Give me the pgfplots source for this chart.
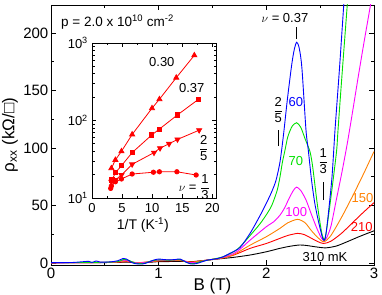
\documentclass[border=0pt]{standalone}
\usepackage{fontspec}
\setmainfont{Liberation Sans}
\usepackage{pgfplots}
\pgfplotsset{compat=1.18}
\usetikzlibrary{calc}
\newcommand{\fr}[2]{$\displaystyle{\hbox{#1}\over\hbox{#2}}$}
\definecolor{cblue}{RGB}{0,0,255}
\definecolor{cgreen}{RGB}{0,225,0}
\definecolor{cmag}{RGB}{255,0,255}
\definecolor{corange}{RGB}{255,128,0}
\definecolor{cred}{RGB}{255,0,0}
\begin{document}
\begin{tikzpicture}
\begin{axis}[name=main, scale only axis, width=323bp, height=260bp,
  xmin=0, xmax=3, ymin=-1.7, ymax=224.4,
  xtick={0,1,2,3}, minor xtick={0.5,1.5,2.5},
  ytick={0,50,100,150,200}, minor ytick={25,75,125,175},
  tick align=inside, major tick length=5bp, minor tick length=3bp,
  axis line style={line width=0.8bp},
  every tick/.style={black, line width=0.8bp},
  /pgf/number format/assume math mode=true,
  tick label style={font=\fontsize{15bp}{18bp}\selectfont},
  yticklabel style={inner sep=0pt, xshift=-2.5bp},
  xlabel={B (T)}, ylabel={ρ\textsubscript{xx} (kΩ/□)},
  label style={font=\fontsize{17bp}{20bp}\selectfont, inner sep=0pt},
  xlabel style={at={(axis description cs:0.5,0)}, anchor=north, yshift=-13bp},
  ylabel style={at={(axis description cs:-0.127,0.5)}, anchor=center},
  every axis plot/.style={line width=0.9bp, smooth, tension=0.45},
]
% 310 mK
\addplot[black] coordinates {(0,0.2)(0.3,0.3)(0.6,0.5)(0.7,0.8)(0.8,0.3)(0.9,0.6)(1.0,1.2)(1.1,1.3)(1.2,1.5)(1.3,1.2)(1.4,2.0)(1.5,3.0)(1.6,4.0)(1.7,5.0)(1.85,7)(2.0,9.8)(2.127,12.8)(2.22,14.6)(2.31,15.7)(2.38,15.2)(2.45,14.2)(2.55,13.2)(2.65,14.8)(2.75,18.5)(2.85,22.5)(2.93,25.5)(3.0,28)};
% 210 mK
\addplot[cred] coordinates {(0,0.2)(0.3,0.3)(0.6,0.6)(0.7,1.2)(0.8,0.3)(0.9,0.8)(1.0,1.8)(1.1,1.9)(1.2,2.0)(1.3,1.0)(1.4,2.0)(1.5,3.2)(1.6,4.5)(1.7,7)(1.85,12.8)(2.0,17)(2.127,21.5)(2.2,24)(2.29,25.8)(2.35,24.8)(2.4,22.5)(2.47,19)(2.53,17)(2.6,19)(2.7,26)(2.8,35)(2.9,44)(3.0,52.5)};
% 150 mK
\addplot[corange] coordinates {(0,0.2)(0.3,0.3)(0.6,0.8)(0.65,1.5)(0.7,1.8)(0.8,0.3)(0.95,1.5)(1.05,2.2)(1.2,2.2)(1.3,0.8)(1.4,1.8)(1.5,3.2)(1.6,4.5)(1.7,7.5)(1.85,15.6)(2.0,22.9)(2.127,30.2)(2.2,35)(2.29,38)(2.36,35)(2.42,28)(2.48,22)(2.535,18.5)(2.6,24)(2.7,40)(2.8,58)(2.9,77)(3.0,97)};
% 100 mK
\addplot[cmag] coordinates {(0,0.2)(0.3,0.3)(0.6,1.0)(0.68,2.5)(0.75,1.0)(0.82,0)(0.9,1.0)(1.0,2.5)(1.1,2.5)(1.2,2.8)(1.28,0.5)(1.35,0.5)(1.45,2.5)(1.5,3.2)(1.6,5)(1.7,8.5)(1.755,12)(1.85,20)(2.0,31.6)(2.07,36)(2.127,41.7)(2.17,48)(2.205,55)(2.25,63)(2.282,66)(2.32,63)(2.368,55)(2.42,42)(2.47,30)(2.51,22)(2.535,19.5)(2.56,22)(2.6,32)(2.65,55)(2.7,78)(2.75,103)(2.8,131)(2.85,160)(2.9,188)(2.95,215)(3.0,242)};
% 70 mK
\addplot[cgreen] coordinates {(0,0.3)(0.3,0.5)(0.6,1.0)(0.67,3.0)(0.72,2.5)(0.78,0)(0.85,-0.5)(0.92,1.5)(1.0,2.8)(1.1,2.5)(1.2,3.0)(1.26,0.5)(1.32,-0.5)(1.4,1.5)(1.5,3.3)(1.6,5.5)(1.7,10)(1.755,14)(1.85,24)(1.94,34)(2.0,42)(2.05,50)(2.1,63)(2.127,75)(2.15,88)(2.173,98)(2.2,110)(2.24,119)(2.282,122)(2.32,118)(2.36,108)(2.405,97)(2.43,84)(2.468,55)(2.5,34)(2.52,24)(2.54,20)(2.555,26)(2.576,40)(2.616,69)(2.653,98)(2.666,116)(2.70,160)(2.752,225)(2.78,262)};
% 60 mK
\addplot[cblue] coordinates {(0,0.3)(0.2,0.5)(0.35,1.5)(0.38,0.5)(0.42,1.8)(0.46,0.8)(0.55,1.0)(0.62,2.0)(0.67,4.0)(0.70,3.5)(0.74,1.0)(0.78,-0.5)(0.85,-0.8)(0.9,0.5)(0.95,2.5)(1.0,3.5)(1.05,3.0)(1.1,2.8)(1.15,3.0)(1.2,3.5)(1.25,1.0)(1.3,-0.8)(1.35,-0.5)(1.4,1.0)(1.45,2.5)(1.5,3.2)(1.55,4.0)(1.6,5.5)(1.66,8.4)(1.755,13.5)(1.85,26)(1.94,41)(2.0,52)(2.05,62)(2.09,72)(2.127,88)(2.16,112)(2.195,142)(2.235,172)(2.26,186)(2.282,192)(2.305,187)(2.33,170)(2.368,116)(2.39,98)(2.42,72)(2.45,52)(2.48,38)(2.505,28)(2.525,21)(2.54,20)(2.555,26)(2.575,42)(2.61,75)(2.638,116)(2.68,170)(2.72,226)(2.75,268)};
% annotations
\node[anchor=west, font=\fontsize{13.5bp}{16bp}\selectfont, inner sep=0pt] at (axis cs:0.093,209.6) {p = 2.0 x 10\textsuperscript{10} cm\textsuperscript{-2}};
\node[font=\fontsize{13bp}{16bp}\selectfont, inner sep=0pt] at (axis cs:2.173,213) {$\nu$ = 0.37};
\draw[line width=0.8bp] (axis cs:2.282,195) -- (axis cs:2.282,205);
\node[font=\fontsize{13bp}{16bp}\selectfont, inner sep=0pt] at (axis cs:2.111,133) {\fr{2}{5}};
\draw[line width=0.8bp] (axis cs:2.111,101.7) -- (axis cs:2.111,115.7);
\node[font=\fontsize{13bp}{16bp}\selectfont, inner sep=0pt] at (axis cs:2.529,88.7) {\fr{1}{3}};
\draw[line width=0.8bp] (axis cs:2.529,54.8) -- (axis cs:2.529,70.4);
\node[text=cblue, font=\fontsize{13bp}{16bp}\selectfont, inner sep=0pt] at (axis cs:2.274,140.3) {60};
\node[text=cgreen, font=\fontsize{13bp}{16bp}\selectfont, inner sep=0pt] at (axis cs:2.274,89) {70};
\node[text=cmag, font=\fontsize{13bp}{16bp}\selectfont, inner sep=0pt] at (axis cs:2.278,44.3) {100};
\node[text=corange, font=\fontsize{13bp}{16bp}\selectfont, inner sep=0pt] at (axis cs:2.893,56.2) {150};
\node[text=cred, font=\fontsize{13bp}{16bp}\selectfont, inner sep=0pt] at (axis cs:2.886,31.3) {210};
\node[font=\fontsize{13bp}{16bp}\selectfont, inner sep=0pt] at (axis cs:2.545,5.5) {310 mK};
\end{axis}

\begin{axis}[name=inset, at={($(main.south west)+(41bp,67bp)$)}, anchor=south west,
  scale only axis, width=124bp, height=155bp,
  xmin=0, xmax=20.6, ymode=log, ymin=10, ymax=1000,
  xtick={0,5,10,15,20}, minor x tick num=1,
  ytick={10,100,1000}, yticklabels={10\textsuperscript{1},10\textsuperscript{2},10\textsuperscript{3}},
  tick align=inside, major tick length=4bp, minor tick length=2.5bp,
  axis line style={line width=0.8bp},
  every tick/.style={black, line width=0.7bp},
  axis background/.style={fill=white},
  /pgf/number format/assume math mode=true,
  tick label style={font=\fontsize{13bp}{15bp}\selectfont},
  yticklabel style={inner sep=0pt, xshift=-4bp},
  xticklabel style={inner sep=0pt, yshift=-5bp},
  xlabel={1/T (K\textsuperscript{-1})},
  xlabel style={font=\fontsize{14bp}{17bp}\selectfont, inner sep=0pt, at={(axis description cs:0.41,0)}, anchor=north, yshift=-19.5bp},
  every axis plot/.style={cred, line width=0.8bp, mark options={solid, fill=cred}},
]
\addplot[mark=triangle*, mark size=2.9bp] coordinates {(3.22,24.2)(3.89,31)(4.89,40)(6.67,66)(9.97,144)(11.2,188)(14.0,357)(17.0,693)};
\addplot[mark=square*, mark size=2.1bp] coordinates {(3.32,17.1)(3.89,21.2)(4.89,26.1)(6.67,38.5)(9.92,65)(11.2,77.6)(14.2,118)(17.7,188)};
\addplot[mark=triangle*, mark size=2.9bp, mark options={rotate=180}] coordinates {(3.22,16.2)(3.89,17.1)(4.89,19.8)(6.67,27.2)(10.3,38.5)(11.3,44)(12.8,50)(14.2,57)(17.8,75)};
\addplot[mark=*, mark size=2.2bp] coordinates {(3.1,13.3)(3.22,14.3)(3.89,16.2)(4.89,17.6)(6.67,20.4)(10.2,21.5)(11.2,21.8)(14.1,21.8)(17.3,19.8)};
\node[font=\fontsize{13bp}{16bp}\selectfont, inner sep=0pt] at (axis cs:11.6,560) {0.30};
\node[font=\fontsize{13bp}{16bp}\selectfont, inner sep=0pt] at (axis cs:16.58,262) {0.37};
\node[font=\fontsize{13bp}{16bp}\selectfont, inner sep=0pt] at (axis cs:18.56,44.2) {\fr{2}{5}};
\node[font=\fontsize{13bp}{16bp}\selectfont, inner sep=0pt] at (axis cs:17.0,13.9) {$\nu$ = \fr{1}{3}};
\end{axis}
\pgfresetboundingbox
\path ($(main.south west)+(-51bp,-30bp)$) rectangle ($(main.north east)+(8bp,5bp)$);
\end{tikzpicture}
\end{document}
